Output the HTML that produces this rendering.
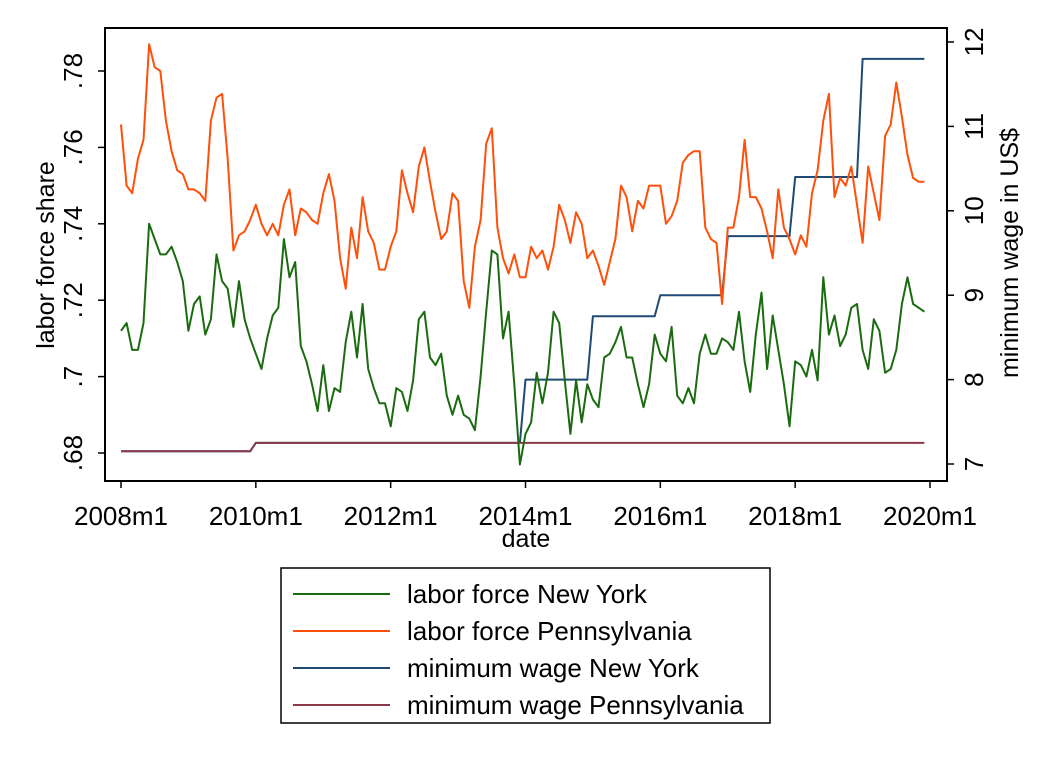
<!DOCTYPE html>
<html><head><meta charset="utf-8"><style>
body{margin:0;background:#fff;}
svg{display:block;font-family:"Liberation Sans",Arial,sans-serif;}
</style></head><body>
<svg id="chart" width="1051" height="765" viewBox="0 0 1051 765">
<rect x="0" y="0" width="1051" height="765" fill="#fff"/>
<g id="marks"></g>
<rect x="105" y="28" width="842" height="453" fill="none" stroke="#000" stroke-width="2"/>
<g id="axes"></g>
<text x="0" y="0" transform="translate(54,255) rotate(-90)" text-anchor="middle" font-size="25">labor force share</text>
<text x="0" y="0" transform="translate(1018,253) rotate(-90)" text-anchor="middle" font-size="25">minimum wage in US$</text>
<text x="526" y="547" text-anchor="middle" font-size="25">date</text>
<g>
<rect x="281" y="568" width="489" height="155" fill="#fff" stroke="#000" stroke-width="1.5"/>
<g><line x1="293" y1="594" x2="390" y2="594" stroke="#1a6b0f" stroke-width="2"/><text x="407" y="603" font-size="26">labor force New York</text></g>
<g><line x1="293" y1="631" x2="390" y2="631" stroke="#ff4f0a" stroke-width="2"/><text x="407" y="640" font-size="26">labor force Pennsylvania</text></g>
<g><line x1="293" y1="668" x2="390" y2="668" stroke="#1f4a73" stroke-width="2"/><text x="407" y="677" font-size="26">minimum wage New York</text></g>
<g><line x1="293" y1="705" x2="390" y2="705" stroke="#8c3a48" stroke-width="2"/><text x="407" y="714" font-size="26">minimum wage Pennsylvania</text></g>
</g>
</svg>
<script>
const laborNY=[.712,.714,.707,.707,.714,.740,.736,.732,.732,.734,.730,.725,.712,.719,.721,.711,.715,.732,.725,.723,.713,.725,.715,.710,.706,.702,.710,.716,.718,.736,.726,.730,.708,.704,.698,.691,.703,.691,.697,.696,.709,.717,.705,.719,.702,.697,.693,.693,.687,.697,.696,.691,.699,.715,.717,.705,.703,.706,.695,.690,.695,.690,.689,.686,.700,.717,.733,.732,.710,.717,.698,.677,.685,.688,.701,.693,.701,.717,.714,.699,.685,.699,.688,.698,.694,.692,.705,.706,.709,.713,.705,.705,.698,.692,.698,.711,.706,.704,.713,.695,.693,.697,.693,.706,.711,.706,.706,.710,.709,.707,.717,.704,.696,.711,.722,.702,.716,.707,.698,.687,.704,.703,.700,.707,.699,.726,.711,.716,.708,.711,.718,.719,.707,.702,.715,.712,.701,.702,.707,.719,.726,.719,.718,.717];
const laborPA=[.766,.750,.748,.757,.762,.787,.781,.780,.767,.759,.754,.753,.749,.749,.748,.746,.767,.773,.774,.757,.733,.737,.738,.741,.745,.740,.737,.740,.737,.745,.749,.737,.744,.743,.741,.740,.748,.753,.746,.731,.723,.739,.731,.747,.738,.735,.728,.728,.734,.738,.754,.748,.743,.755,.760,.751,.743,.736,.738,.748,.746,.725,.718,.734,.741,.761,.765,.739,.731,.727,.732,.726,.726,.734,.731,.733,.728,.734,.745,.741,.735,.743,.740,.731,.733,.729,.724,.730,.736,.750,.747,.738,.746,.744,.750,.750,.750,.740,.742,.746,.756,.758,.759,.759,.739,.736,.735,.719,.739,.739,.747,.762,.747,.747,.744,.738,.731,.749,.739,.736,.732,.737,.734,.748,.754,.767,.774,.747,.752,.750,.755,.745,.735,.755,.748,.741,.763,.766,.777,.768,.758,.752,.751,.751];
const wageNYByYear=[7.15,7.15,7.25,7.25,7.25,7.25,8.00,8.75,9.00,9.70,10.40,11.80];
const wagePAByYear=[7.15,7.15,7.25,7.25,7.25,7.25,7.25,7.25,7.25,7.25,7.25,7.25];
const leftTicks=[.68,.70,.72,.74,.76,.78];
const leftTickLabels=[".68",".7",".72",".74",".76",".78"];
const rightTicks=[7,8,9,10,11,12];
const xTickMonths=[0,24,48,72,96,120,144];
const xTickLabels=["2008m1","2010m1","2012m1","2014m1","2016m1","2018m1","2020m1"];
const xS=m=>121+m*(930-121)/144;
const yL=v=>453-(v-.68)*3820;
const yR=v=>464-(v-7)*84.4;
const NS="http://www.w3.org/2000/svg";
const marks=document.getElementById('marks'), axes=document.getElementById('axes');
function mk(t,a,p){const e=document.createElementNS(NS,t);for(const k in a)e.setAttribute(k,a[k]);p.appendChild(e);return e;}
function line(vals,ys,color,name){
  const d=vals.map((v,i)=>(i?'L':'M')+xS(i).toFixed(1)+','+ys(v).toFixed(1)).join('');
  const p=mk('path',{d:d,fill:'none',stroke:color,'stroke-width':2,'stroke-linejoin':'round'},marks);
  
  
}
const wagePA=laborNY.map((_,i)=>wagePAByYear[Math.floor(i/12)]);
const wageNY=laborNY.map((_,i)=>wageNYByYear[Math.floor(i/12)]);
line(wageNY,yR,'#1f4a73','line-min-wage-ny');
line(wagePA,yR,'#8c3a48','line-min-wage-pa');
line(laborNY,yL,'#1a6b0f','line-labor-force-ny');
line(laborPA,yL,'#ff4f0a','line-labor-force-pa');
leftTicks.forEach((v,i)=>{
  const y=yL(v);
  const t=mk('line',{x1:98,y1:y,x2:105,y2:y,stroke:'#000','stroke-width':1.5},axes);
  
  
  const tx=mk('text',{transform:`translate(82,${y}) rotate(-90)`,'text-anchor':'middle','font-size':26},axes);
  tx.textContent=leftTickLabels[i];
  
  
});
rightTicks.forEach(v=>{
  const y=yR(v);
  const t=mk('line',{x1:947,y1:y,x2:954,y2:y,stroke:'#000','stroke-width':1.5},axes);
  
  
  const tx=mk('text',{transform:`translate(983,${y}) rotate(-90)`,'text-anchor':'middle','font-size':26},axes);
  tx.textContent=String(v);
  
  
});
xTickMonths.forEach((m,i)=>{
  const x=xS(m);
  const t=mk('line',{x1:x,y1:481,x2:x,y2:488,stroke:'#000','stroke-width':1.5},axes);
  
  
  const tx=mk('text',{x:x,y:525,'text-anchor':'middle','font-size':26},axes);
  tx.textContent=xTickLabels[i];
  
  
});
</script>
</body></html>
